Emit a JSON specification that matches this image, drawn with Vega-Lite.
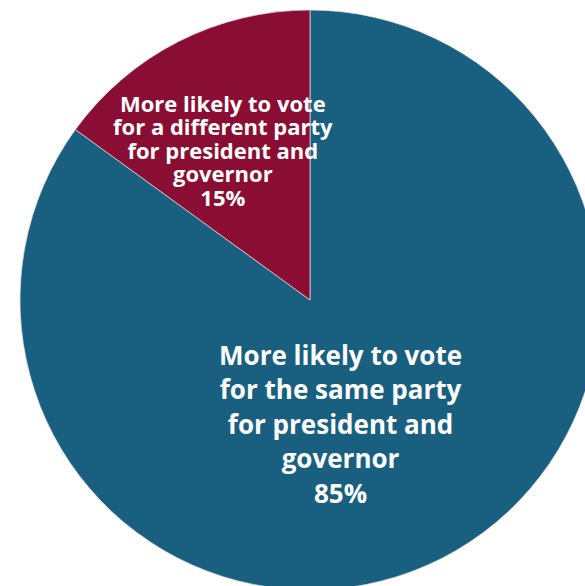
{
  "$schema": "https://vega.github.io/schema/vega-lite/v6.json",
  "width": 620,
  "height": 600,
  "padding": 0,
  "autosize": "none",
  "background": "white",
  "view": {"stroke": null},
  "data": {"values": [
    {"category": "More likely to vote\nfor the same party\nfor president and\ngovernor\n85%", "key": "same", "order": 1, "value": 85},
    {"category": "More likely to vote\nfor a different party\nfor president and\ngovernor\n15%", "key": "diff", "order": 2, "value": 15}
  ]},
  "encoding": {
    "theta": {"field": "value", "type": "quantitative", "stack": true},
    "order": {"field": "order", "type": "quantitative"}
  },
  "layer": [
    {
      "mark": {"type": "arc", "radius": 290, "stroke": "#e8e0e4", "strokeWidth": 0.7},
      "encoding": {
        "color": {"field": "key", "type": "nominal", "scale": {"domain": ["same", "diff"], "range": ["#195f80", "#8a0e33"]}, "legend": null}
      }
    },
    {
      "mark": {"type": "text", "radius": 140, "dx": -33, "dy": -68, "fill": "white", "font": "Open Sans", "fontWeight": "bold", "fontSize": 26, "lineBreak": "\n", "lineHeight": 34.5, "align": "center", "baseline": "middle"},
      "encoding": {"text": {"condition": {"test": "datum.key === 'same'", "field": "category"}, "value": ""}}
    },
    {
      "mark": {"type": "text", "radius": 170, "dx": -10, "dy": -44, "fill": "white", "font": "Open Sans", "fontWeight": "bold", "fontSize": 22, "lineBreak": "\n", "lineHeight": 23.5, "align": "center", "baseline": "middle"},
      "encoding": {"text": {"condition": {"test": "datum.key === 'diff'", "field": "category"}, "value": ""}}
    }
  ]
}
